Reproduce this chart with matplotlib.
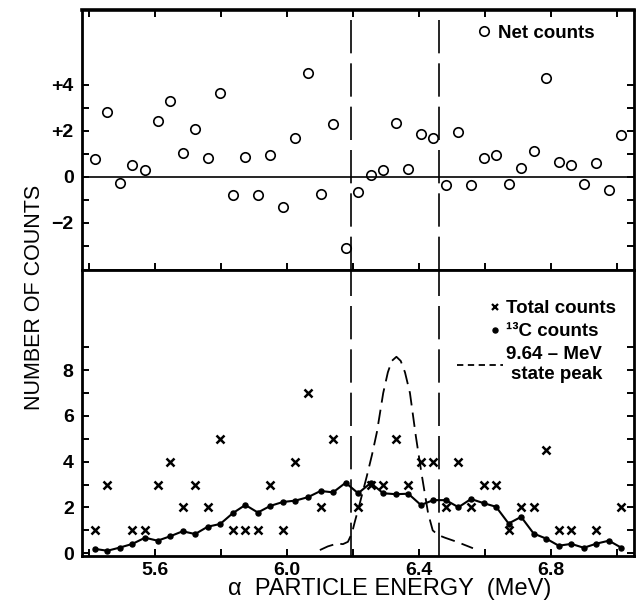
import numpy as np
import matplotlib.pyplot as plt
import matplotlib.ticker as ticker
from matplotlib.lines import Line2D
from matplotlib.legend_handler import HandlerLine2DCompound

plt.rcParams['font.family'] = ['Liberation Sans', 'DejaVu Sans']

# --- Channel energies (MeV) ---
energy = [5.418, 5.456, 5.494, 5.532, 5.570, 5.608, 5.646, 5.684, 5.722, 5.760,
          5.798, 5.836, 5.874, 5.912, 5.950, 5.988, 6.026, 6.064, 6.102, 6.140,
          6.178, 6.216, 6.254, 6.292, 6.330, 6.368, 6.406, 6.444, 6.482, 6.520,
          6.558, 6.596, 6.634, 6.672, 6.710, 6.748, 6.786, 6.824, 6.862, 6.900,
          6.938, 6.976, 7.014]

# --- Counts per channel ---
net_counts = [0.77, 2.81, -0.29, 0.52, 0.29, 2.42, 3.30, 1.03, 2.10, 0.81,
              3.64, -0.78, 0.88, -0.78, 0.96, -1.29, 1.67, 4.53, -0.74, 2.29,
              -3.10, -0.64, 0.09, 0.30, 2.36, 0.33, 1.87, 1.68, -0.36, 1.94,
              -0.36, 0.83, 0.94, -0.32, 0.38, 1.13, 4.29, 0.64, 0.53, -0.32,
              0.58, -0.57, 1.83]

total_counts = [1, 3, 0, 1, 1, 3, 4, 2, 3, 2,
                5, 1, 1, 1, 3, 1, 4, 7, 2, 5,
                0, 2, 3, 3, 5, 3, 4, 4, 2, 4,
                2, 3, 3, 1, 2, 2, 4.5, 1, 1, 0,
                1, 0, 2]

c13_counts = [0.19, 0.11, 0.25, 0.41, 0.68, 0.55, 0.74, 0.96, 0.84, 1.16,
              1.28, 1.75, 2.11, 1.78, 2.07, 2.24, 2.30, 2.45, 2.72, 2.66,
              3.08, 2.62, 3.07, 2.62, 2.58, 2.60, 2.11, 2.32, 2.32, 2.01,
              2.37, 2.19, 2.03, 1.30, 1.59, 0.86, 0.64, 0.33, 0.41, 0.24,
              0.42, 0.55, 0.24]

# --- Expected line shape of the 9.64-MeV state ---
peak_E = [6.100, 6.124, 6.151, 6.170, 6.185, 6.197, 6.206, 6.221, 6.242, 6.258,
          6.273, 6.292, 6.306, 6.318, 6.332, 6.345, 6.358, 6.373, 6.391, 6.408,
          6.428, 6.442, 6.458, 6.479, 6.515, 6.564]
peak_y = [0.14, 0.30, 0.42, 0.40, 0.50, 0.87, 1.38, 2.18, 3.35, 4.30,
          5.30, 7.00, 7.90, 8.40, 8.58, 8.40, 7.90, 7.00, 5.10, 3.49,
          1.75, 1.00, 0.80, 0.68, 0.50, 0.22]

# --- Summing window ---
window = [6.195, 6.46]

E = np.array(energy)
tot = np.array(total_counts, dtype=float)
shown = tot > 0   # empty channels are not plotted


class MarkerAtEnd(HandlerLine2DCompound):
    # marker sits at the right end of the handle, next to its label
    def get_xdata(self, legend, xdescent, ydescent, width, height, fontsize):
        xdata, _ = super().get_xdata(legend, xdescent, ydescent, width, height, fontsize)
        return xdata, [-xdescent + width - 0.45 * fontsize]


def style_axis(ax):
    for s in ax.spines.values():
        s.set_linewidth(2.0)
    ax.tick_params(which='both', direction='in', length=5, width=1.4,
                   top=True, right=True, labelsize=14, pad=4)
    ax.tick_params(axis='y', pad=6)
    for lab in ax.get_xticklabels() + ax.get_yticklabels():
        lab.set_fontweight('bold')


fig = plt.figure(figsize=(6.42, 6.0), dpi=100)
ax1 = fig.add_axes([0.1277, 0.55, 0.8598, 0.4333])
ax2 = fig.add_axes([0.1277, 0.0733, 0.8598, 0.4767])

xlim = (5.379, 7.052)
legend_font = {'weight': 'bold', 'size': 13.5}

# Panel 1: net counts
ax1.plot(E, net_counts, 'o', ms=6.8, mfc='white', mec='black', mew=1.2,
         label='Net counts')
ax1.axhline(0, color='black', linewidth=1.2)
ax1.set_xlim(*xlim)
ax1.set_ylim(-4.05, 7.25)
ax1.yaxis.set_major_locator(ticker.FixedLocator([-2, 0, 2, 4]))
ax1.yaxis.set_minor_locator(ticker.FixedLocator([-3, -1, 1, 3]))
ax1.yaxis.set_major_formatter(ticker.FuncFormatter(
    lambda v, p: '0' if v == 0 else ('+%d' % v if v > 0 else '\u2212%d' % -v)))
ax1.xaxis.set_major_locator(ticker.MultipleLocator(0.4))
ax1.xaxis.set_minor_locator(ticker.MultipleLocator(0.2))
ax1.tick_params(labelbottom=False)
style_axis(ax1)
ax1.spines['top'].set_linewidth(2.6)
ax1.legend(loc='upper right', bbox_to_anchor=(0.928, 0.943), frameon=False,
           prop=legend_font, handlelength=0.7, handletextpad=0.4, borderpad=0,
           borderaxespad=0)

# Panel 2: total and 13C counts
ax2.plot(E[shown], tot[shown], 'x', ms=5.5, mew=1.8, color='black')
ax2.plot(E, c13_counts, '-o', ms=3.6, lw=1.5, color='black')
ax2.plot(peak_E, peak_y, color='black', lw=1.3, linestyle=(0, (8, 4)))
ax2.set_xlim(*xlim)
ax2.set_ylim(-0.12, 12.37)
ax2.yaxis.set_major_locator(ticker.FixedLocator([0, 2, 4, 6, 8]))
ax2.yaxis.set_minor_locator(ticker.FixedLocator([1, 3, 5, 7, 9]))
ax2.xaxis.set_major_locator(ticker.MultipleLocator(0.4))
ax2.xaxis.set_minor_locator(ticker.MultipleLocator(0.2))
ax2.xaxis.set_major_formatter(ticker.FormatStrFormatter('%.1f'))
style_axis(ax2)
ax2.tick_params(which='both', top=False)

for ax in (ax1, ax2):
    for e in window:
        ax.axvline(e, color='black', lw=1.2, linestyle=(0, (20, 6)))

handles = [Line2D([], [], marker='x', ls='none', ms=5, mew=1.6, color='black'),
           Line2D([], [], marker='o', ls='none', ms=3.6, color='black'),
           Line2D([], [], ls=(0, (3.5, 2.5)), lw=1.3, color='black')]
labels = ['Total counts', '\u00b9\u00b3C counts', '9.64 \u2013 MeV\nstate peak']
leg = ax2.legend(handles, labels, loc='upper right', bbox_to_anchor=(0.968, 0.895),
                 frameon=False, prop=legend_font,
                 handlelength=2.5, handletextpad=0.15, labelspacing=0.32,
                 borderpad=0, borderaxespad=0,
                 handler_map={Line2D: MarkerAtEnd()})
leg.get_texts()[2].set_multialignment('right')

ax2.set_xlabel('\u03b1  PARTICLE ENERGY  (MeV)', fontsize=17)
ax2.xaxis.set_label_coords(0.558, -0.078)
fig.text(0.053, 0.505, 'NUMBER OF COUNTS', rotation=90, ha='center', va='center',
         fontsize=15.5)

fig.savefig('out.png', dpi=100)
